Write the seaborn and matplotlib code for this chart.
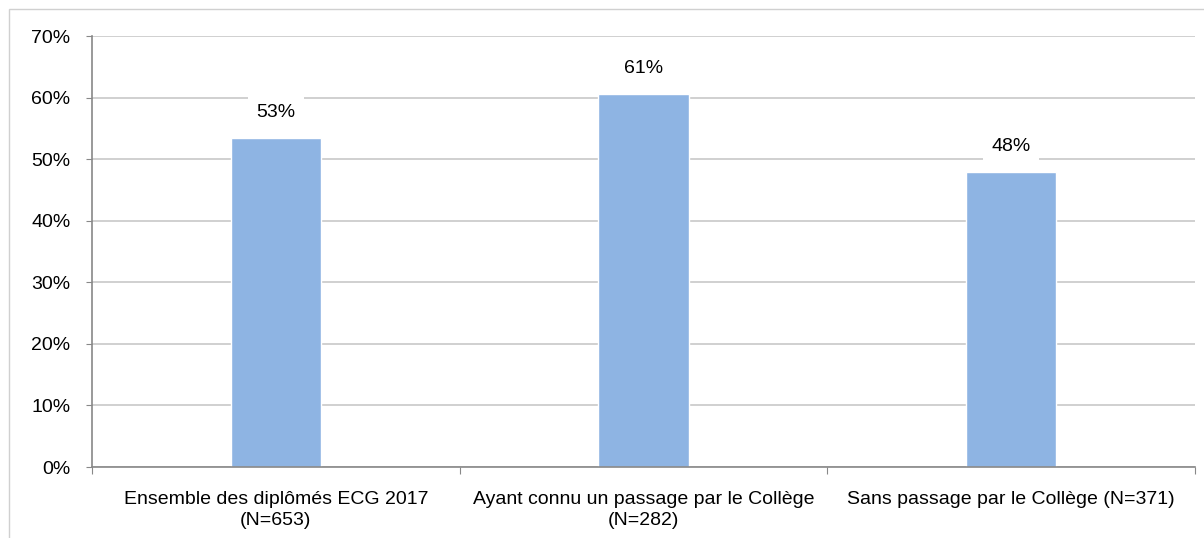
import matplotlib
matplotlib.use("Agg")
import matplotlib.pyplot as plt
import seaborn as sns
import pandas as pd
from matplotlib.patches import Rectangle

# Data
categories = ["Ensemble des diplômés ECG 2017\n(N=653)",
              "Ayant connu un passage par le Collège\n(N=282)",
              "Sans passage par le Collège (N=371)"]
values = [53.4, 60.6, 47.9]
value_labels = ["53%", "61%", "48%"]
yticks = [0, 10, 20, 30, 40, 50, 60, 70]

df = pd.DataFrame({"cat": categories, "val": values})

sns.set_style("white")
plt.rcParams['font.family'] = ['Liberation Sans', 'DejaVu Sans']
plt.rcParams['text.color'] = 'black'
plt.rcParams['xtick.color'] = 'black'
plt.rcParams['ytick.color'] = 'black'

fig = plt.figure(figsize=(12.04, 5.38), dpi=100)
ax = fig.add_axes([92/1204, 1 - 467/538, (1195-92)/1204, (467-36)/538])

# outer frame
fig.patches.append(Rectangle((9/1204, -0.1), 1.2, (538-9)/538 + 0.1, transform=fig.transFigure,
                             fill=False, edgecolor="#d0d0d0", lw=1))

sns.barplot(data=df, x="cat", y="val", color="#8EB4E3", saturation=1, width=0.245, ax=ax, zorder=2)

ax.set_ylim(0, 70)
ax.set_xlim(-0.5, 2.5)
ax.set_yticks(yticks)
ax.set_yticklabels([f"{t}%" for t in yticks], fontsize=14)
ax.yaxis.grid(True, color="#c8c8c8", lw=1.2, zorder=0)
ax.set_axisbelow(True)
ax.set_xlabel("")
ax.set_ylabel("")

# category ticks at boundaries (Excel style)
ax.set_xticks([-0.5, 0.5, 1.5, 2.5])
ax.set_xticklabels([])
ax.set_xticks([0, 1, 2], minor=True)
ax.set_xticklabels(categories, minor=True, fontsize=14, linespacing=1.3)
ax.tick_params(axis="x", which="minor", length=0, pad=17)
ax.tick_params(axis="x", which="major", length=5, color="#888888", direction="out", bottom=True)
ax.tick_params(axis="y", length=4.5, color="#888888", labelcolor="black", direction="out", left=True, pad=11)

for s in ["top", "right"]:
    ax.spines[s].set_visible(False)
for s in ["left", "bottom"]:
    ax.spines[s].set_color("#888888")
    ax.spines[s].set_linewidth(1.2)

for i, (v, lab) in enumerate(zip(values, value_labels)):
    ax.text(i, v + 4.2, lab, ha="center", va="center", fontsize=14, color="black",
            bbox=dict(facecolor="white", edgecolor="none", pad=6), zorder=3)

fig.savefig("out.png", dpi=100)
